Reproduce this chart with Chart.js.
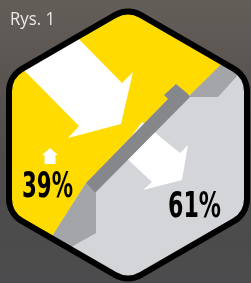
<!DOCTYPE html>
<html>
<head>
<meta charset="utf-8">
<script src="https://cdn.jsdelivr.net/npm/chart.js@4.4.1/dist/chart.umd.min.js"></script>
<style>
    html, body { margin: 0; padding: 0; background: #4f4c4a; }
    #wrap { width: 251px; height: 283px; position: relative; }
</style>
</head>
<body>
<div id="wrap"><canvas id="chart"></canvas></div>
<script>
const figureTitle = 'Rys. 1';
const parts = ['yellow', 'grey'];
const shares = [39, 61];
const shareLabels = shares.map(v => v + '%');

// where each share label sits (left x, baseline y, target width) in picture pixels
const labelBoxes = [
    { x: 22, y: 197, w: 51 },
    { x: 168, y: 217, w: 53 }
];

// illustration shapes, picture pixels (x right, y down)
const hex = { cx: 128, cy: 145, r: 137.4, corner: 26 };
const yellowArea = [[40, 255], [86, 183], [168, 99], [164, 95], [176, 84], [189, 96], [222, 64], [262, 24], [262, -10], [-10, -10], [-10, 255]];
const topStrip = [[189, 96], [262, 24], [262, 49], [238, 75], [218, 97], [189, 97]];
const lowStrip = [[86, 183], [95, 193], [96, 193], [96, 233], [66, 250], [40, 255]];
const stepBand = [[86, 183], [168, 99], [164, 95], [176, 84], [188, 94], [190, 97], [95, 193]];
const bigArrow = [[62, 22], [122, 83], [133, 72], [121, 124], [68, 138], [79, 126], [7, 53]];
const smallArrow = [[142, 122], [180, 153], [188, 145], [182, 180], [143, 190], [152, 182], [120, 152]];
const upArrow = [[50, 148], [58, 155], [55.5, 155], [55.5, 164], [44.5, 164], [44.5, 155], [42, 155]];

function hexPath(ctx, P) {
    const pts = [];
    for (let i = 0; i < 6; i++) {
        const a = (-90 + 60 * i) * Math.PI / 180;
        pts.push(P(hex.cx + hex.r * Math.cos(a), hex.cy + hex.r * Math.sin(a)));
    }
    ctx.beginPath();
    const m0 = [(pts[5][0] + pts[0][0]) / 2, (pts[5][1] + pts[0][1]) / 2];
    ctx.moveTo(m0[0], m0[1]);
    for (let i = 0; i < 6; i++) {
        const p = pts[i], n = pts[(i + 1) % 6];
        ctx.arcTo(p[0], p[1], n[0], n[1], hex.corner);
    }
    ctx.closePath();
}

function fillPoly(ctx, P, pts, color) {
    ctx.beginPath();
    pts.forEach((pt, i) => {
        const q = P(pt[0], pt[1]);
        if (i === 0) ctx.moveTo(q[0], q[1]); else ctx.lineTo(q[0], q[1]);
    });
    ctx.closePath();
    ctx.fillStyle = color;
    ctx.fill();
}

function fitText(ctx, text, x, y, w, font) {
    ctx.font = font;
    const tw = ctx.measureText(text).width;
    ctx.save();
    ctx.translate(x, y);
    ctx.scale(w / tw, 1);
    ctx.fillText(text, 0, 0);
    ctx.restore();
}

const hexagonArt = {
    id: 'hexagonArt',
    beforeDraw(chart) {
        const ctx = chart.ctx;
        const sx = chart.scales.x, sy = chart.scales.y;
        const P = (x, y) => [sx.getPixelForValue(x), sy.getPixelForValue(y)];

        ctx.save();
        const bg = ctx.createLinearGradient(0, 0, 0, chart.height);
        bg.addColorStop(0, '#645e59');
        bg.addColorStop(0.55, '#4e4b49');
        bg.addColorStop(1, '#4c4c4e');
        ctx.fillStyle = bg;
        ctx.fillRect(0, 0, chart.width, chart.height);

        // hexagon body
        hexPath(ctx, P);
        ctx.fillStyle = '#d4d5d8';
        ctx.fill();
        ctx.save();
        hexPath(ctx, P);
        ctx.clip();
        fillPoly(ctx, P, yellowArea, '#ffdb00');
        fillPoly(ctx, P, topStrip, '#a4a5a9');
        fillPoly(ctx, P, lowStrip, '#a4a5a9');
        fillPoly(ctx, P, bigArrow, '#ffffff');
        fillPoly(ctx, P, smallArrow, '#ffffff');
        fillPoly(ctx, P, stepBand, '#86878b');
        fillPoly(ctx, P, upArrow, '#ffffff');
        ctx.restore();

        hexPath(ctx, P);
        ctx.lineWidth = 6;
        ctx.strokeStyle = '#000000';
        ctx.stroke();

        // share labels
        ctx.fillStyle = '#000000';
        ctx.textBaseline = 'alphabetic';
        ctx.textAlign = 'left';
        shareLabels.forEach((label, i) => {
            const b = labelBoxes[i];
            const q = P(b.x, b.y);
            fitText(ctx, label, q[0], q[1], b.w, "bold 35px 'DejaVu Sans', sans-serif");
        });

        // figure title
        ctx.fillStyle = '#ebe9e6';
        const t = P(10, 25);
        fitText(ctx, figureTitle, t[0], t[1], 45, "18px 'Open Sans', sans-serif");
        ctx.restore();
    }
};

new Chart(document.getElementById('chart'), {
    type: 'scatter',
    data: {
        datasets: [{
            label: parts.join(' / '),
            data: [],
            pointRadius: 0
        }]
    },
    options: {
        responsive: true,
        maintainAspectRatio: false,
        animation: false,
        layout: { padding: 0 },
        plugins: {
            legend: { display: false },
            tooltip: { enabled: false }
        },
        scales: {
            x: { type: 'linear', min: 0, max: 251, display: false },
            y: { type: 'linear', min: 0, max: 283, reverse: true, display: false }
        }
    },
    plugins: [hexagonArt]
});
</script>
</body>
</html>
